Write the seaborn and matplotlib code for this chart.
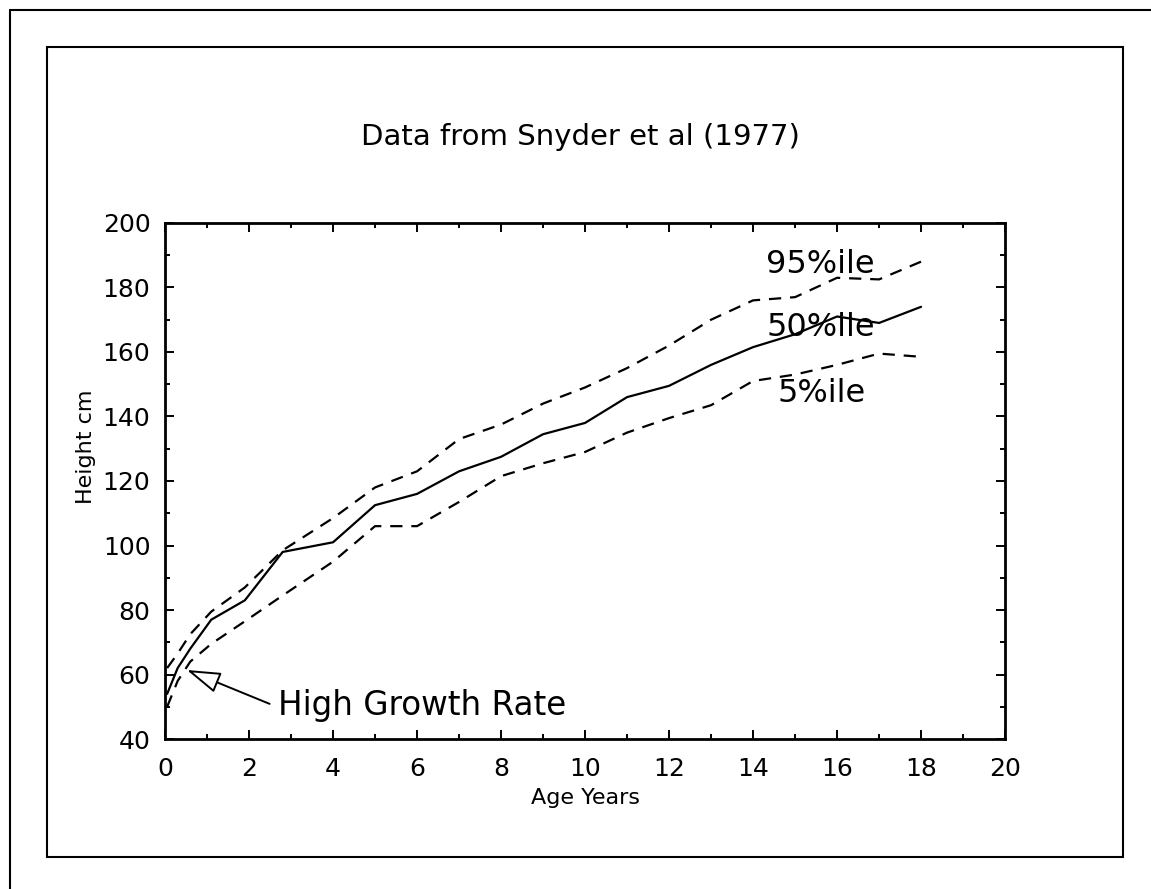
import matplotlib
matplotlib.use("Agg")
import matplotlib.pyplot as plt
import seaborn as sns
import pandas as pd
from matplotlib.lines import Line2D
from matplotlib.patches import Rectangle
from matplotlib.ticker import MultipleLocator

age_years = [0.05, 0.3, 0.6, 1.1, 1.9, 2.8, 4, 5, 6, 7, 8, 9, 10, 11, 12, 13, 14, 15, 16, 17, 18]
height_p95 = [62, 66.5, 72.5, 79.5, 87, 98.5, 108.5, 118, 123, 133, 137.5, 144, 149, 155, 162, 170, 176, 177, 183, 182.5, 188]
height_p50 = [54, 62, 68, 77, 83, 98, 101, 112.5, 116, 123, 127.5, 134.5, 138, 146, 149.5, 156, 161.5, 165.5, 171, 169, 174]
height_p5 = [50, 58, 64, 69.5, 76.5, 84.5, 95, 106, 106, 113.5, 121.5, 125.5, 129, 135, 139.5, 143.5, 151, 153, 156, 159.5, 158.5]

series_names = ["95%ile", "50%ile", "5%ile"]
series_values = [height_p95, height_p50, height_p5]

df = pd.concat(
    [pd.DataFrame({"age": age_years, "height": vals, "pct": name})
     for name, vals in zip(series_names, series_values)],
    ignore_index=True,
)

sns.set_theme(style="ticks")
plt.rcParams["font.family"] = ["DejaVu Sans"]

fig = plt.figure(figsize=(11.51, 8.89), dpi=100)
ax = fig.add_axes([0.1434, 0.1687, 0.7298, 0.5805])

dash = (5.5, 4)
sns.lineplot(
    data=df, x="age", y="height", style="pct",
    dashes={"95%ile": dash, "50%ile": "", "5%ile": dash},
    color="black", linewidth=1.6, estimator=None, sort=False,
    legend=False, ax=ax,
)

ax.set_xlim(0, 20)
ax.set_ylim(40, 200)
ax.xaxis.set_major_locator(MultipleLocator(2))
ax.xaxis.set_minor_locator(MultipleLocator(1))
ax.yaxis.set_major_locator(MultipleLocator(20))
ax.yaxis.set_minor_locator(MultipleLocator(10))
ax.tick_params(which="both", direction="in", top=True, right=True, width=1.4,
               color="black", labelcolor="black")
ax.tick_params(which="major", length=6.5, labelsize=18)
ax.tick_params(which="minor", length=3.6)
ax.tick_params(axis="x", which="major", pad=13)
ax.tick_params(axis="y", which="major", pad=10.5)
for sp in ax.spines.values():
    sp.set_linewidth(2)
    sp.set_color("black")

ax.set_xlabel("Age Years", fontsize=16, color="black")
ax.xaxis.label.set_va("baseline")
ax.xaxis.set_label_coords(0.5, -0.126)
ax.set_ylabel("Height cm", fontsize=16, color="black")
ax.yaxis.label.set_va("center")
ax.yaxis.set_label_coords(-0.094, 0.566)

fig.text(0.5043, 0.8369, "Data from Snyder et al (1977)", ha="center",
         va="baseline", fontsize=21, color="black")

# percentile labels
ax.text(14.31, 184.4, "95%ile", fontsize=23, va="baseline", color="black")
ax.text(14.31, 165.1, "50%ile", fontsize=23, va="baseline", color="black")
ax.text(14.58, 144.6, "5%ile", fontsize=23, va="baseline", color="black")

ax.annotate(
    "High Growth Rate", xy=(0.52, 61.4), xytext=(2.69, 47.4),
    fontsize=23.5, va="baseline", ha="left", color="black",
    arrowprops=dict(arrowstyle="-|>,head_length=1.05,head_width=0.33",
                    mutation_scale=20, fc="white", ec="black", lw=1.4,
                    shrinkA=4, shrinkB=0, relpos=(0, 0.45)),
)

# page frames
fig.add_artist(Rectangle((0.0408, 0.036), 0.9349, 0.9111, transform=fig.transFigure,
                         fill=False, ec="black", lw=1.5))
fig.add_artist(Line2D([0.0087, 0.0087], [0.0, 0.9888], transform=fig.transFigure,
                      color="black", lw=1.5))
fig.add_artist(Line2D([0.0087, 1.0], [0.9888, 0.9888], transform=fig.transFigure,
                      color="black", lw=1.5))

fig.savefig("out.png", dpi=100, facecolor="white")
